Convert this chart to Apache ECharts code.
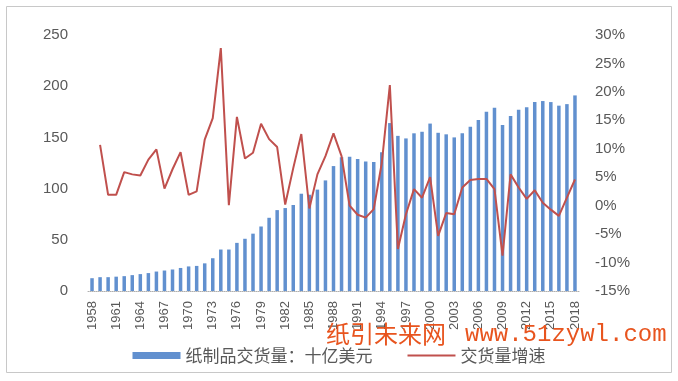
<!DOCTYPE html>
<html>
<head>
<meta charset="utf-8">
<script src="https://cdn.jsdelivr.net/npm/echarts@6/dist/echarts.min.js"></script>
<style>
html,body{margin:0;padding:0;background:#fff;}
#chart{width:678px;height:381px;}
</style>
</head>
<body>
<div id="chart"></div>
<script>
var years = [];
for (var y = 1958; y <= 2018; y++) { years.push(String(y)); }

var shipments = [
  12.5, 13.5, 13.5, 14, 14.5, 15.5, 16.5, 17.5, 19, 20,
  21, 22.5, 24, 24.5, 27, 32, 40.5, 40.5, 47, 51,
  56, 63, 71.5, 79, 81, 84, 95, 94, 99, 108,
  122, 130.5, 131, 129, 126.5, 126, 135.5, 164, 151.5, 149,
  154, 155.5, 163.5, 154.5, 153, 150, 154, 160.5, 167, 175,
  179, 162, 171, 177, 179.5, 184.5, 185.5, 184.5, 181, 182.5,
  191
];

var growth = [
  null, 10.7, 1.9, 1.9, 5.9, 5.5, 5.3, 8.1, 9.9, 3.0,
  6.4, 9.4, 1.9, 2.5, 11.6, 15.4, 27.7, 0.1, 15.6, 8.3,
  9.3, 14.4, 11.7, 10.3, 0.2, 6.6, 12.6, -0.5, 5.5, 8.7,
  12.7, 8.7, 0.0, -1.6, -2.1, -0.6, 7.5, 21.2, -7.6, -1.5,
  2.9, 1.4, 5.0, -5.3, -1.3, -1.5, 3.2, 4.5, 4.7, 4.7,
  2.9, -8.8, 5.5, 3.2, 1.2, 2.7, 0.5, -0.7, -1.8, 1.4,
  4.6
];

var seriesNames = ['纸制品交货量：十亿美元', '交货量增速'];
var watermarkCn = '纸引未来网';
var watermarkUrl = 'www.51zywl.com';

var chart = echarts.init(document.getElementById('chart'), null, {renderer: 'canvas'});
var grey = '#595959';
chart.setOption({
  animation: false,
  backgroundColor: '#ffffff',
  grid: {left: 88, right: 99, top: 35, bottom: 90},
  legend: {
    left: 'center',
    top: 342,
    itemWidth: 48,
    itemHeight: 7,
    itemGap: 35,
    symbolKeepAspect: true,
    textStyle: {color: grey, fontSize: 17, fontFamily: 'Noto Sans CJK SC'},
    data: [
      {name: seriesNames[0], icon: 'rect'},
      {name: seriesNames[1], icon: 'path://M0,0L48,0L48,2L0,2Z'}
    ]
  },
  xAxis: {
    type: 'category',
    data: years,
    boundaryGap: true,
    axisLine: {show: true, lineStyle: {color: '#b0b0b0', type: 'dotted', width: 1}},
    axisTick: {show: false},
    axisLabel: {
      interval: 2,
      rotate: 90,
      margin: 10,
      color: grey,
      fontSize: 13,
      fontFamily: 'Liberation Sans'
    },
    splitLine: {show: false}
  },
  yAxis: [
    {
      type: 'value', min: 0, max: 250, interval: 50,
      axisLine: {show: false}, axisTick: {show: false},
      splitLine: {show: false},
      axisLabel: {color: grey, fontSize: 15, margin: 20, fontFamily: 'Liberation Sans'}
    },
    {
      type: 'value', min: -15, max: 30, interval: 5,
      axisLine: {show: false}, axisTick: {show: false},
      splitLine: {show: false},
      axisLabel: {color: grey, fontSize: 15, margin: 16, fontFamily: 'Liberation Sans', formatter: '{value}%'}
    }
  ],
  series: [
    {
      name: seriesNames[0],
      type: 'bar',
      yAxisIndex: 0,
      data: shipments,
      barWidth: 3.5,
      itemStyle: {color: '#6190cf'}
    },
    {
      name: seriesNames[1],
      type: 'line',
      yAxisIndex: 1,
      data: growth,
      symbol: 'none',
      showSymbol: false,
      lineStyle: {color: '#c0504d', width: 2},
      itemStyle: {color: '#c0504d'},
      z: 3
    }
  ],
  graphic: [
    {
      type: 'rect', left: 4, top: 4, silent: true,
      shape: {x: 0, y: 0, width: 665, height: 366},
      style: {fill: 'none', stroke: '#c8c8c8', lineWidth: 1}
    },
    {
      type: 'text', left: 326, top: 322, silent: true, z: 100,
      style: {text: watermarkCn, fill: '#e8541e', font: '24px "Noto Sans CJK SC"'}
    },
    {
      type: 'text', left: 465, top: 323, silent: true, z: 100,
      style: {text: watermarkUrl, fill: '#e8541e', font: '24px "Liberation Mono"'}
    }
  ]
});
</script>
</body>
</html>
